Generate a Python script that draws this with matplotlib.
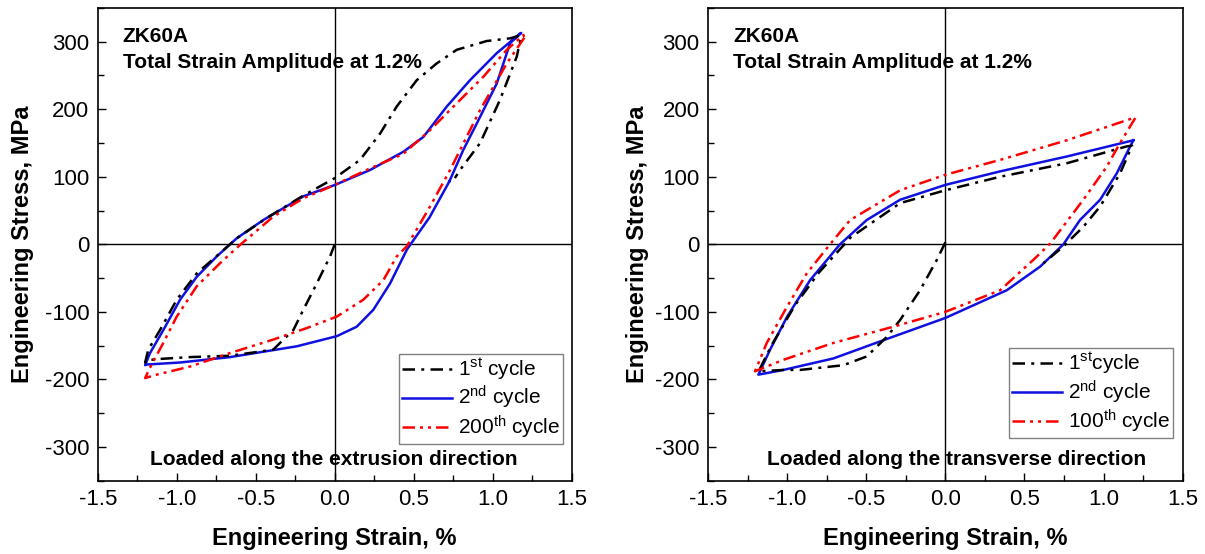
import matplotlib
matplotlib.use("Agg")
import matplotlib.pyplot as plt
from matplotlib.ticker import MultipleLocator

plt.rcParams['font.family'] = ['Liberation Sans', 'DejaVu Sans']
plt.rcParams['mathtext.fontset'] = 'custom'
plt.rcParams['mathtext.rm'] = 'Liberation Sans'
plt.rcParams['mathtext.it'] = 'Liberation Sans:italic'
plt.rcParams['mathtext.bf'] = 'Liberation Sans:bold'

# ---- left panel: loaded along extrusion direction ----
ext_c1_x = [0.0, -0.03, -0.114, -0.199, -0.262, -0.325, -0.389, -0.663, -0.916, -1.127, -1.19, -1.2,
            -1.18, -1.106, -1.0, -0.873, -0.726, -0.62, -0.43, -0.2, 0.0, 0.16, 0.287, 0.392, 0.519,
            0.646, 0.772, 0.962, 1.11, 1.17, 1.18, 1.152, 1.046, 0.92, 0.793, 0.76]
ext_c1_y = [0, -18, -58, -97, -127, -141, -156, -165, -167, -170, -172, -175,
            -156, -127, -82, -43, -13, 9, 39, 72, 98, 125, 164, 204, 243,
            268, 288, 301, 305, 309, 308, 278, 214, 150, 110, 98]

ext_c2_x = [0.725, 0.6, 0.477, 0.456, 0.35, 0.244, 0.139, 0.013, -0.24, -0.663, -0.979, -1.19, -1.2,
            -1.169, -1.085, -0.979, -0.873, -0.747, -0.62, -0.452, -0.199, 0.002, 0.223, 0.434,
            0.561, 0.709, 0.856, 1.025, 1.173, 1.18, 1.11, 1.025, 0.899, 0.814, 0.725]
ext_c2_y = [93, 40, -1, -8, -58, -97, -122, -136, -151, -167, -175, -178, -179,
            -161, -127, -82, -48, -18, 9, 36, 71, 88, 110, 137,
            159, 204, 243, 283, 312, 313, 298, 238, 179, 140, 93]

ext_c200_x = [1.2, 1.089, 0.92, 0.73, 0.603, 0.456, 0.392, 0.308, 0.181, 0.013, -0.177, -0.389,
              -0.663, -0.916, -1.127, -1.2, -1.17, -1.085, -1.0, -0.873, -0.726, -0.6, -0.389,
              -0.2, 0.0, 0.22, 0.434, 0.603, 0.73, 0.94, 1.089, 1.194, 1.2]
ext_c200_y = [306, 268, 199, 110, 56, -3, -18, -53, -82, -107, -124, -141,
              -161, -181, -193, -198, -183, -146, -107, -62, -28, -1, 41,
              68, 88, 112, 134, 169, 199, 248, 288, 310, 306]

# ---- right panel: loaded along transverse direction ----
tra_c1_x = [0.0, -0.054, -0.16, -0.286, -0.37, -0.497, -0.645, -0.918, -1.024, -1.18,
            -1.1, -0.95, -0.8, -0.6, -0.286, 0.0, 0.346, 0.767, 1.146, 1.18,
            1.104, 0.978, 0.872, 0.746, 0.62]
tra_c1_y = [3, -23, -68, -112, -137, -166, -179, -186, -186, -188,
            -150, -90, -42, 10, 61, 80, 100, 120, 145, 146,
            105, 56, 26, -3, -28]

tra_c2_x = [1.188, 1.168, 1.083, 0.978, 0.851, 0.746, 0.599, 0.388, 0.0, -0.392, -0.708, -1.024, -1.182,
            -1.108, -1.0, -0.855, -0.666, -0.497, -0.286, 0.0, 0.346, 0.767, 1.188]
tra_c2_y = [154, 145, 105, 66, 36, 0, -33, -68, -109, -142, -169, -186, -193,
            -156, -107, -53, 0, 36, 66, 88, 108, 130, 154]

tra_c100_x = [1.2, 1.104, 1.02, 0.872, 0.662, 0.556, 0.346, 0.0, -0.329, -0.708, -1.024, -1.203,
              -1.129, -1.0, -0.876, -0.729, -0.602, -0.286, 0.0, 0.346, 0.767, 1.188, 1.2]
tra_c100_y = [187, 150, 115, 66, 1, -23, -68, -100, -122, -146, -171, -188,
              -146, -92, -43, 0, 36, 80, 103, 125, 154, 187, 187]

panels = [
    (ext_c1_x, ext_c1_y, ext_c2_x, ext_c2_y, ext_c200_x, ext_c200_y,
     ['1$^{\\mathrm{st}}$ cycle', '2$^{\\mathrm{nd}}$ cycle', '200$^{\\mathrm{th}}$ cycle'],
     'Loaded along the extrusion direction'),
    (tra_c1_x, tra_c1_y, tra_c2_x, tra_c2_y, tra_c100_x, tra_c100_y,
     ['1$^{\\mathrm{st}}$cycle', '2$^{\\mathrm{nd}}$ cycle', '100$^{\\mathrm{th}}$ cycle'],
     'Loaded along the transverse direction'),
]

fig = plt.figure(figsize=(12.05, 5.54), dpi=100)
rects = [[0.0811, 0.1323, 0.3934, 0.8534], [0.5876, 0.1323, 0.3939, 0.8534]]
leg_anchor = [(0.982, 0.078), (0.98, 0.09)]
note_x = [0.4985, 0.5235]
ylab_pad = [7.5, 4.5]

for i in range(2):
    x1, y1, x2, y2, x3, y3, labels, note = panels[i]
    ax = fig.add_axes(rects[i])
    ax.axhline(0, color='black', lw=1.0, zorder=1)
    ax.axvline(0, color='black', lw=1.0, zorder=1)
    ax.plot(x1, y1, color='black', lw=1.8, dashes=(5, 2.5, 1.2, 2.5), label=labels[0], zorder=3)
    ax.plot(x2, y2, color='#1010e0', lw=1.8, label=labels[1], zorder=2)
    ax.plot(x3, y3, color='red', lw=1.8, dashes=(5, 2, 1.2, 2, 1.2, 2), label=labels[2], zorder=4)

    ax.set_xlim(-1.5, 1.5)
    ax.set_ylim(-350, 350)
    ax.xaxis.set_minor_locator(MultipleLocator(0.25))
    ax.yaxis.set_minor_locator(MultipleLocator(50))
    ax.set_yticks([-300, -200, -100, 0, 100, 200, 300])
    ax.set_xticks([-1.5, -1.0, -0.5, 0.0, 0.5, 1.0, 1.5])
    ax.set_xticklabels(['-1.5', '-1.0', '-0.5', '0.0', '0.5', '1.0', '1.5'])
    ax.set_yticklabels(['-300', '-200', '-100', '0', '100', '200', '300'])
    ax.tick_params(which='both', direction='in', top=False, right=False, labelsize=16, pad=6, width=1)
    ax.tick_params(which='major', length=6)
    ax.tick_params(which='minor', length=4)
    for s in ax.spines.values():
        s.set_linewidth(1.2)

    ax.set_xlabel('Engineering Strain, %', fontsize=17, fontweight='bold', labelpad=12)
    ax.set_ylabel('Engineering Stress, MPa', fontsize=17, fontweight='bold', labelpad=ylab_pad[i])

    ax.text(0.053, 0.94, 'ZK60A', transform=ax.transAxes, fontsize=15, fontweight='bold', va='center')
    ax.text(0.053, 0.885, 'Total Strain Amplitude at 1.2%', transform=ax.transAxes,
            fontsize=15, fontweight='bold', va='center')
    ax.text(note_x[i], 0.045, note, transform=ax.transAxes, fontsize=15, fontweight='bold',
            ha='center', va='center')

    leg = ax.legend(loc='lower right', bbox_to_anchor=leg_anchor[i], fontsize=15, handlelength=2.4,
                    fancybox=False, framealpha=1, edgecolor='gray', borderpad=0.15,
                    labelspacing=0.1, handletextpad=0.3, borderaxespad=0)
    leg.get_frame().set_linewidth(1.0)

fig.savefig('out.png', dpi=100)
